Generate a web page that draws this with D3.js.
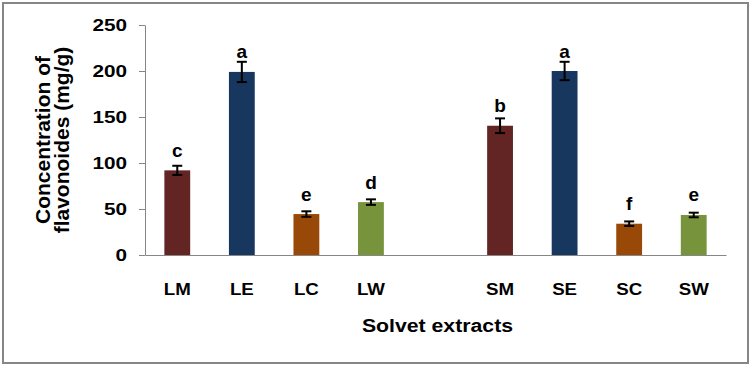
<!DOCTYPE html>
<html>
<head>
<meta charset="utf-8">
<script src="https://cdn.jsdelivr.net/npm/d3@7"></script>
<style>
  html, body { margin: 0; padding: 0; background: #fff; }
  svg { display: block; font-family: "Liberation Sans", Arial, sans-serif; }
</style>
</head>
<body>
<svg id="chart" width="751" height="367"></svg>
<script>
// ---- data ----
const categories = ["LM", "LE", "LC", "LW", "SM", "SE", "SC", "SW"];
const values = [92, 199, 44.5, 57.5, 140.5, 200, 34, 43.5];
const errors = [5, 11, 3, 3, 8, 10, 2.5, 2.5];
const letters = ["c", "a", "e", "d", "b", "a", "f", "e"];
const solventColors = ["#632523", "#17375E", "#984807", "#77933C"];
const yTicks = [0, 50, 100, 150, 200, 250];
const xTitle = "Solvet extracts";
const yTitle = ["Concentration of", "flavonoides (mg/g)"];

// ---- layout ----
(function () {
const svg = d3.select("#chart");
const mLeft = 145, mRight = 726, mTop = 25, mBottom = 255;
const gapKey = "__gap__";
const domain = [...categories.slice(0, 4), gapKey, ...categories.slice(4)];

svg.append("rect")
  .attr("x", 3).attr("y", 3).attr("width", 745).attr("height", 360)
  .attr("fill", "#fff").attr("stroke", "#868686").attr("stroke-width", 2);

const x = d3.scaleBand().domain(domain).range([mLeft, mRight])
  .paddingInner(0.6).paddingOuter(0.3);
const y = d3.scaleLinear().domain([0, 250]).range([mBottom, mTop]);

const data = categories.map((c, i) => ({
  cat: c, v: values[i], e: errors[i], letter: letters[i], color: solventColors[i % 4]
}));

function stretch(sel, k) {
  sel.each(function () {
    const len = this.getComputedTextLength();
    d3.select(this).attr("textLength", len * k).attr("lengthAdjust", "spacingAndGlyphs");
  });
}

// y axis
const gy = svg.append("g").attr("transform", `translate(${mLeft},0)`)
  .call(d3.axisLeft(y).tickValues(yTicks).tickSize(6).tickSizeOuter(0).tickPadding(12));
gy.select(".domain").attr("stroke", "#868686").attr("stroke-width", 1);
gy.selectAll(".tick line").attr("stroke", "#868686");
gy.selectAll(".tick text")
  .attr("font-family", "'Liberation Sans', Arial, sans-serif")
  .attr("font-size", 17).attr("font-weight", "bold").attr("fill", "#000");
stretch(gy.selectAll(".tick text"), 1.22);

// bars
svg.append("g").selectAll("rect").data(data).join("rect")
  .attr("x", d => x(d.cat))
  .attr("y", d => y(d.v))
  .attr("width", x.bandwidth())
  .attr("height", d => y(0) - y(d.v))
  .attr("fill", d => d.color);

// x axis
const gx = svg.append("g").attr("transform", `translate(0,${mBottom})`)
  .call(d3.axisBottom(x).tickValues(categories).tickSize(0).tickSizeOuter(0).tickPadding(28));
gx.select(".domain").attr("stroke", "#868686").attr("stroke-width", 1);
gx.selectAll(".tick text")
  .attr("font-family", "'Liberation Sans', Arial, sans-serif")
  .attr("font-size", 17).attr("font-weight", "bold").attr("fill", "#000");
stretch(gx.selectAll(".tick text"), 1.1);

// error bars
const eb = svg.append("g").attr("stroke", "#000").attr("stroke-width", 2);
data.forEach(d => {
  const cx = x(d.cat) + x.bandwidth() / 2;
  eb.append("line").attr("x1", cx).attr("x2", cx).attr("y1", y(d.v + d.e)).attr("y2", y(d.v - d.e));
  eb.append("line").attr("x1", cx - 5).attr("x2", cx + 5).attr("y1", y(d.v + d.e)).attr("y2", y(d.v + d.e));
  eb.append("line").attr("x1", cx - 5).attr("x2", cx + 5).attr("y1", y(d.v - d.e)).attr("y2", y(d.v - d.e));
});

// significance letters
svg.append("g").selectAll("text").data(data).join("text")
  .attr("x", d => x(d.cat) + x.bandwidth() / 2)
  .attr("y", d => y(d.v) - 13.5)
  .attr("text-anchor", "middle")
  .attr("font-size", 19).attr("font-weight", "bold").attr("fill", "#000")
  .text(d => d.letter);

// x title
const xt = svg.append("text")
  .attr("x", (mLeft + mRight) / 2 + 2).attr("y", 332)
  .attr("text-anchor", "middle")
  .attr("font-size", 18).attr("font-weight", "bold").attr("fill", "#000")
  .text(xTitle);
stretch(xt, 1.18);

// y title
const yt = svg.append("g").attr("transform", `translate(50,${(mTop + mBottom) / 2})rotate(-90)`);
yTitle.forEach((t, i) => {
  yt.append("text").attr("x", 0).attr("y", i * 19)
    .attr("text-anchor", "middle")
    .attr("font-size", 21).attr("font-weight", "bold").attr("fill", "#000")
    .text(t);
});
})();
</script>
</body>
</html>
